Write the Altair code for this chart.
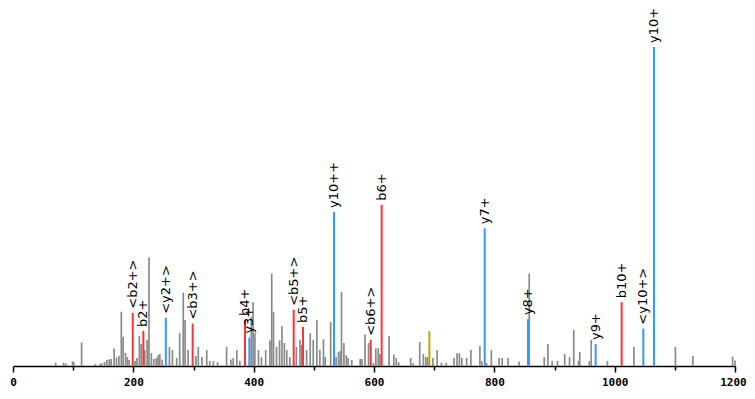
import altair as alt
import pandas as pd

# Unannotated (grey) peaks: m/z and relative intensity (%)
grey_mz = [71, 84, 88, 99, 101, 114, 137, 145, 147, 152, 156, 160, 163, 168, 172, 176, 180, 183, 187, 190,
           193, 203, 206, 210, 213, 219, 223, 226, 230, 234, 238, 241, 244, 248, 260, 265, 272, 277, 283, 286,
           291, 304, 308, 314, 322, 327, 333, 340, 355, 362, 366, 372, 377, 396, 399, 402, 408, 413, 420, 427,
           430, 433, 438, 443, 447, 451, 455, 460, 471, 477, 480, 488, 494, 499, 505, 510, 516, 519, 528, 537,
           541, 544, 546, 550, 554, 557, 563, 577, 580, 585, 591, 599, 603, 607, 610, 625, 633, 637, 641, 661,
           665, 676, 682, 686, 689, 698, 705, 712, 720, 733, 738, 742, 746, 754, 761, 776, 779, 787, 795, 808,
           813, 823, 841, 858, 883, 889, 896, 905, 917, 925, 932, 940, 942, 958, 961, 988, 1032, 1101, 1130, 1196,
           1200]
grey_int = [1.0, 1.0, 0.8, 1.5, 1.2, 7.4, 0.6, 0.6, 0.9, 1.3, 1.9, 2.1, 2.2, 5.5, 2.7, 3.1, 17.0, 9.2, 4.1, 2.8,
            1.9, 1.6, 2.5, 9.4, 6.9, 5.0, 8.2, 34.0, 4.1, 2.2, 2.5, 3.4, 3.8, 2.0, 6.0, 5.0, 2.5, 10.3, 23.0, 14.4,
            5.0, 3.1, 6.0, 2.8, 5.0, 1.6, 1.5, 1.2, 6.0, 2.0, 2.5, 5.0, 1.6, 15.4, 20.0, 10.3, 5.0, 2.8, 5.0, 8.0,
            29.0, 17.0, 6.0, 8.0, 12.5, 7.2, 5.0, 2.8, 6.0, 8.2, 6.6, 5.0, 10.3, 8.2, 14.4, 5.0, 8.4, 2.8, 13.8, 2.8,
            4.4, 4.7, 23.2, 7.2, 3.4, 2.5, 1.9, 2.2, 2.2, 9.9, 7.2, 0.9, 5.5, 5.6, 3.8, 9.4, 3.6, 2.5, 1.2, 2.5,
            0.9, 7.5, 3.8, 2.8, 2.8, 2.5, 5.0, 1.0, 1.0, 2.5, 4.0, 4.0, 2.5, 2.5, 5.0, 6.3, 1.5, 1.0, 5.0, 2.5,
            2.5, 2.5, 1.4, 29.0, 2.8, 6.9, 1.6, 1.6, 3.8, 2.8, 11.3, 1.6, 4.4, 1.6, 8.2, 1.6, 6.0, 6.0, 3.1, 2.9,
            1.7]

# Annotated fragment ions
ion_mz = [199, 216.6, 254, 298.6, 385.6, 392.8, 466.5, 482, 533.5, 594.5, 612.7, 692, 784, 856, 968.4, 1011.6, 1047.6, 1065.3]
ion_int = [16.7, 11.0, 15.1, 13.3, 14.4, 8.9, 17.6, 12.2, 48.3, 8.2, 50.5, 10.9, 43.2, 14.7, 6.9, 20.0, 11.7, 100.0]
ion_label = ["<b2+>", "b2+", "<y2+>", "<b3+>", "b4+", "y3+", "<b5+>", "b5+", "y10++", "<b6+>", "b6+", "",
             "y7+", "y8+", "y9+", "b10+", "<y10+>", "y10+"]
ion_type = ["b", "b", "y", "b", "b", "y", "b", "b", "y", "b", "b", "other", "y", "y", "y", "b", "y", "y"]

grey_df = pd.DataFrame({"mz": grey_mz, "intensity": grey_int})
ion_df = pd.DataFrame({"mz": ion_mz, "intensity": ion_int, "label": ion_label, "type": ion_type})

x_scale = alt.Scale(domain=[0, 1200], nice=False, zero=False)
y_scale = alt.Scale(domain=[0, 112.2], nice=False)

x_axis = alt.Axis(
    values=list(range(0, 1201, 100)),
    format="d",
    labelExpr="datum.value % 200 === 0 ? datum.label : ''",
    title=None, grid=False,
    domainColor="black", domainWidth=1.5,
    tickColor="black", tickWidth=1.5,
    tickSize={"condition": {"test": "datum.value % 200 === 0", "value": 6}, "value": 4},
    labelOffset={"condition": {"test": "datum.value === 1200", "value": -2}, "value": 0},
    labelFont="DejaVu Sans Mono", labelFontWeight="bold", labelFontSize=11,
    labelColor="black", labelPadding=4, labelFlush=False, labelOverlap=False,
)

base_grey = alt.Chart(grey_df).mark_rule(color="#8a8a8a", strokeWidth=1.7).encode(
    x=alt.X("mz:Q", scale=x_scale, axis=x_axis),
    y=alt.Y("intensity:Q", scale=y_scale, axis=None),
    y2=alt.datum(0),
)

ions = alt.Chart(ion_df).mark_rule(strokeWidth=2).encode(
    x=alt.X("mz:Q", scale=x_scale),
    y=alt.Y("intensity:Q", scale=y_scale),
    y2=alt.datum(0),
    color=alt.Color("type:N", scale=alt.Scale(domain=["b", "y", "other"],
                                              range=["#ff3333", "#3399ff", "#c9a010"]), legend=None),
)

labels = alt.Chart(ion_df).mark_text(
    angle=270, align="left", baseline="middle", dx=4, fontSize=13, font="DejaVu Sans", color="black"
).encode(
    x=alt.X("mz:Q", scale=x_scale),
    y=alt.Y("intensity:Q", scale=y_scale),
    text="label:N",
)

chart = alt.layer(base_grey, ions, labels).properties(
    width=722, height=358,
    autosize=alt.AutoSizeParams(type="none"),
    padding={"left": 5, "top": 0, "right": 12, "bottom": 25},
).configure_view(stroke=None)

chart.save("out.html", embed_options={"renderer": "svg", "actions": False})
